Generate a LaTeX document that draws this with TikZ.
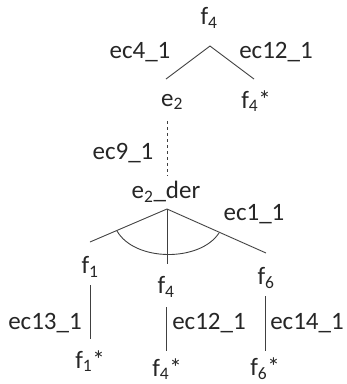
\documentclass[tikz,border=0pt]{standalone}
\usepackage{fontspec}
\setmainfont{Carlito}
\usetikzlibrary{positioning}
\newcommand{\ix}[1]{\textsubscript{#1}}

\begin{document}
\begin{tikzpicture}[
    x=1pt,y=-1pt,
    lbl/.style = {font=\fontsize{25}{28}\selectfont,inner sep=0pt,text=black!85},
    edg/.style = {line width=0.9pt,draw=black!75},
  ]
  \useasboundingbox (0,0) rectangle (347,384);

  % upper part
  \node[lbl] (top) at (209,18) {f\ix{4}};
  \coordinate (apx) at (210,46);
  \coordinate (le) at (166,79);
  \coordinate (re) at (254,79);
  \draw[edg] (le) -- (apx) -- (re);
  \node[lbl] (ecA) at (140,52) {ec4\_1};
  \node[lbl] (ecB) at (276,52) {ec12\_1};
  \node[lbl] (e2) at (172,102) {e\ix{2}};
  \node[lbl] (f4s) at (256,101) {f\ix{4}*};

  % dashed link
  \coordinate (d1) at (167,121);
  \coordinate (d2) at (167,176);
  \draw[edg,dashed] (d1) -- (d2);
  \node[lbl] (ecC) at (123,153) {ec9\_1};

  % e2_der and its three branches
  \node[lbl] (der) at (166,192) {e\ix{2}\_der};
  \coordinate (bx) at (167,209);
  \coordinate (bl) at (90,242);
  \coordinate (bm) at (167,264);
  \coordinate (br) at (266,253);
  \draw[edg] (bl) -- (bx) -- (br);
  \draw[edg] (bx) -- (bm);
  \coordinate (al) at (117,231);
  \coordinate (ar) at (219,233);
  \draw[edg] (al) .. controls (135,262) and (200,262) .. (ar);
  \node[lbl] (ecD) at (254,214) {ec1\_1};

  \node[lbl] (f1) at (90,267) {f\ix{1}};
  \node[lbl] (f4) at (166,287) {f\ix{4}};
  \node[lbl] (f6) at (266,278) {f\ix{6}};

  % lower links
  \coordinate (u1) at (90,285);
  \coordinate (v1) at (90,339);
  \coordinate (u2) at (166,307);
  \coordinate (v2) at (166,351);
  \coordinate (u3) at (265,296);
  \coordinate (v3) at (265,351);
  \draw[edg] (u1) -- (v1);
  \draw[edg] (u2) -- (v2);
  \draw[edg] (u3) -- (v3);
  \node[lbl] (ecE) at (45,323) {ec13\_1};
  \node[lbl] (ecF) at (209,323) {ec12\_1};
  \node[lbl] (ecG) at (307,323) {ec14\_1};

  \node[lbl] (f1s) at (90,361) {f\ix{1}*};
  \node[lbl] (f4b) at (167,369) {f\ix{4}*};
  \node[lbl] (f6s) at (265,369) {f\ix{6}*};

\end{tikzpicture}
\end{document}
